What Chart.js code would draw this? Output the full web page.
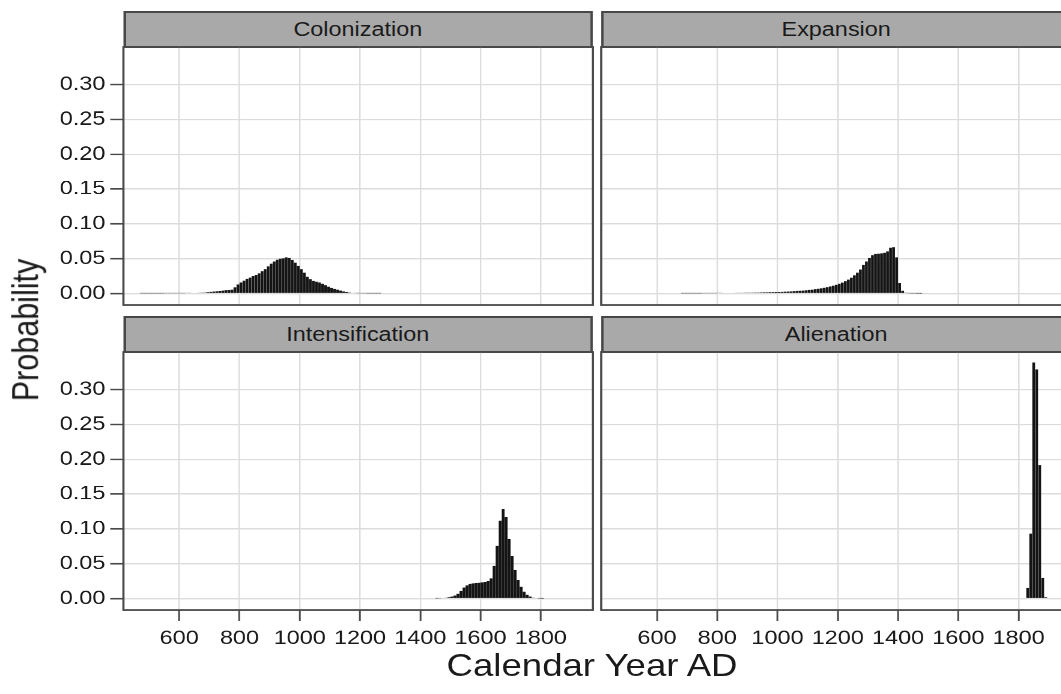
<!DOCTYPE html>
<html>
<head>
<meta charset="utf-8">
<script src="https://cdn.jsdelivr.net/npm/chart.js@4.4.1/dist/chart.umd.min.js"></script>
<style>
  body { margin: 0; overflow: hidden; background: #fff; }
  #fig {
    position: absolute; left: 0; top: 0; width: 884px; height: 694px;
    transform-origin: 0 0;
    font-family: "Liberation Sans", Arial, sans-serif; color: #1a1a1a;
  }
  .strip {
    position: absolute; box-sizing: border-box;
    background: #a9a9a9; border: 2px solid #474747;
    font-size: 19.5px; display: flex; align-items: center; justify-content: center;
  }
  .panel { position: absolute; }
  .title { position: absolute; white-space: nowrap; font-size: 30.5px; }
</style>
</head>
<body>
<div id="fig"></div>
<script>
// --------------------- DATA ------------------------
const panelTitles = ['Colonization', 'Expansion', 'Intensification', 'Alienation'];

const xTicks = [600, 800, 1000, 1200, 1400, 1600, 1800];
const yTicks = [0, 0.05, 0.10, 0.15, 0.20, 0.25, 0.30];

const colonizationYears = [
  475, 485, 495, 505, 515, 525, 535, 545, 555, 565,
  575, 585, 595, 605, 615, 625, 635, 645, 655, 665,
  675, 685, 695, 705, 715, 725, 735, 745, 755, 765,
  775, 785, 795, 805, 815, 825, 835, 845, 855, 865,
  875, 885, 895, 905, 915, 925, 935, 945, 955, 965,
  975, 985, 995, 1005, 1015, 1025, 1035, 1045, 1055, 1065,
  1075, 1085, 1095, 1105, 1115, 1125, 1135, 1145, 1155, 1165,
  1175, 1185, 1195, 1205, 1215, 1225, 1235, 1245, 1255, 1265
];
const colonizationProb = [
  0.0003, 0.0003, 0.0003, 0.0003, 0.0003, 0.0004, 0.0004, 0.0004, 0.0005, 0.0005,
  0.0005, 0.0005, 0.0006, 0.0006, 0.0006, 0.0007, 0.0007, 0.0008, 0.0009, 0.0010,
  0.0012, 0.0015, 0.0020, 0.0024, 0.0028, 0.0032, 0.0036, 0.0042, 0.0048, 0.0050,
  0.0055, 0.0090, 0.0130, 0.0160, 0.0185, 0.0210, 0.0230, 0.0250, 0.0265, 0.0290,
  0.0320, 0.0350, 0.0390, 0.0430, 0.0460, 0.0485, 0.0500, 0.0505, 0.0520, 0.0510,
  0.0480, 0.0445, 0.0395, 0.0350, 0.0300, 0.0240, 0.0205, 0.0180, 0.0170, 0.0160,
  0.0140, 0.0120, 0.0098, 0.0080, 0.0066, 0.0055, 0.0042, 0.0030, 0.0022, 0.0015,
  0.0009, 0.0007, 0.0006, 0.0005, 0.0005, 0.0004, 0.0004, 0.0003, 0.0003, 0.0003
];

const expansionYears = [
  685, 695, 705, 715, 725, 735, 745, 755, 765, 775,
  785, 795, 805, 815, 825, 835, 845, 855, 865, 875,
  885, 895, 905, 915, 925, 935, 945, 955, 965, 975,
  985, 995, 1005, 1015, 1025, 1035, 1045, 1055, 1065, 1075,
  1085, 1095, 1105, 1115, 1125, 1135, 1145, 1155, 1165, 1175,
  1185, 1195, 1205, 1215, 1225, 1235, 1245, 1255, 1265, 1275,
  1285, 1295, 1305, 1315, 1325, 1335, 1345, 1355, 1365, 1375,
  1385, 1395, 1405, 1415, 1425, 1435, 1445, 1455, 1465, 1475
];
const expansionProb = [
  0.0003, 0.0003, 0.0003, 0.0003, 0.0004, 0.0004, 0.0004, 0.0005, 0.0005, 0.0005,
  0.0006, 0.0006, 0.0007, 0.0007, 0.0008, 0.0008, 0.0009, 0.0009, 0.0010, 0.0010,
  0.0011, 0.0012, 0.0012, 0.0013, 0.0014, 0.0015, 0.0016, 0.0017, 0.0018, 0.0019,
  0.0020, 0.0021, 0.0022, 0.0024, 0.0026, 0.0028, 0.0031, 0.0034, 0.0037, 0.0040,
  0.0043, 0.0047, 0.0051, 0.0056, 0.0062, 0.0068, 0.0075, 0.0083, 0.0092, 0.0102,
  0.0113, 0.0125, 0.0140, 0.0158, 0.0178, 0.0200, 0.0228, 0.0262, 0.0300, 0.0345,
  0.0410, 0.0460, 0.0510, 0.0550, 0.0568, 0.0573, 0.0576, 0.0585, 0.0605, 0.0660,
  0.0665, 0.0520, 0.0150, 0.0040, 0.0012, 0.0006, 0.0004, 0.0003, 0.0002, 0.0002
];

const intensificationYears = [
  1455, 1465, 1475, 1485, 1495, 1505, 1515, 1525, 1535, 1545,
  1555, 1565, 1575, 1585, 1595, 1605, 1615, 1625, 1635, 1645,
  1655, 1665, 1675, 1685, 1695, 1705, 1715, 1725, 1735, 1745,
  1755, 1765, 1775, 1785, 1795, 1805
];
const intensificationProb = [
  0.0003, 0.0005, 0.0008, 0.0012, 0.0020, 0.0030, 0.0045, 0.0070, 0.0110, 0.0160,
  0.0190, 0.0210, 0.0218, 0.0222, 0.0228, 0.0232, 0.0237, 0.0250, 0.0290, 0.0470,
  0.0760, 0.1120, 0.1285, 0.1170, 0.0860, 0.0610, 0.0410, 0.0265, 0.0170, 0.0100,
  0.0055, 0.0030, 0.0015, 0.0008, 0.0004, 0.0002
];

const alienationYears = [1830, 1840, 1850, 1860, 1870, 1880, 1890];
const alienationProb = [0.0153, 0.0934, 0.3390, 0.3290, 0.1915, 0.0296, 0.0020];

const panelYears = [colonizationYears, expansionYears, intensificationYears, alienationYears];
const panelProb = [colonizationProb, expansionProb, intensificationProb, alienationProb];

// --------------------- LAYOUT ------------------------
// the reference figure is a bit wider than tall, so the whole figure is stretched
const STRETCH = 1.2;
const xMin = 415, xMax = 1973;
const yMin = -0.0165, yMax = 0.354;

const colLeft = [123.3, 601.7];   // plot left edges in page px
const plotWidth = 469;
const rowTop = [46.7, 351.7];
const plotHeight = 258.5;
const stripHeight = 35.7;
const tickFont = { family: '"Liberation Sans", Arial, sans-serif', size: 19.5 };

const fig = document.getElementById('fig');
fig.style.transform = 'scaleX(' + STRETCH + ')';

const panelBorder = {
    id: 'panelBorder',
    afterDatasetsDraw(chart) {
        const { ctx, chartArea: a } = chart;
        ctx.save();
        ctx.strokeStyle = '#4a4a4a';
        ctx.lineWidth = 1.8;
        ctx.strokeRect(a.left, a.top, a.right - a.left, a.bottom - a.top);
        ctx.restore();
    }
};

function addDiv(cls, text, css) {
    let d = document.createElement('div');
    d.className = cls;
    if (text) d.textContent = text;
    Object.assign(d.style, css);
    fig.appendChild(d);
    return d;
}

// --------------------- PANELS ------------------------
panelTitles.forEach((title, i) => {
    let col = i % 2, row = Math.floor(i / 2);
    let showY = col === 0, showX = row === 1;

    let plotL = colLeft[col] / STRETCH;
    let plotW = plotWidth / STRETCH;
    let plotT = rowTop[row];
    let axW = showY ? plotL : 2;
    let axH = showX ? 45 : 2;

    addDiv('strip', title, {
        left: plotL + 'px', top: (plotT - stripHeight) + 'px',
        width: plotW + 'px', height: (stripHeight + 1) + 'px'
    });

    let wrap = addDiv('panel', null, {
        left: (plotL - axW) + 'px', top: (plotT - 2) + 'px',
        width: (axW + plotW + 2) + 'px', height: (plotHeight + 2 + axH) + 'px'
    });
    let canvas = document.createElement('canvas');
    wrap.appendChild(canvas);

    let years = panelYears[i], prob = panelProb[i];

    new Chart(canvas, {
        type: 'bar',
        data: {
            datasets: [{
                data: years.map((x, k) => ({ x: x, y: prob[k] })),
                backgroundColor: '#141414',
                borderWidth: 0,
                barPercentage: 0.93,
                categoryPercentage: 1
            }]
        },
        options: {
            responsive: true,
            maintainAspectRatio: false,
            animation: false,
            devicePixelRatio: 2,
            layout: { padding: { top: 2, right: 2, left: 0, bottom: 0 }, autoPadding: false },
            plugins: { legend: { display: false }, tooltip: { enabled: false } },
            scales: {
                x: {
                    type: 'linear', min: xMin, max: xMax, offset: false,
                    afterBuildTicks: s => { s.ticks = xTicks.map(v => ({ value: v })); },
                    afterFit: s => { s.height = axH; s.paddingLeft = 0; s.paddingRight = 0; },
                    border: { display: false },
                    grid: {
                        offset: false, color: '#dcdcdc', lineWidth: 1.2,
                        drawTicks: showX, tickLength: 11, tickColor: '#4a4a4a', tickWidth: 1.5
                    },
                    ticks: {
                        display: showX, padding: 6, color: '#1a1a1a', font: tickFont,
                        maxRotation: 0, autoSkip: false, callback: v => String(v)
                    }
                },
                y: {
                    type: 'linear', min: yMin, max: yMax,
                    afterBuildTicks: s => { s.ticks = yTicks.map(v => ({ value: v })); },
                    afterFit: s => { s.width = axW; s.paddingTop = 0; s.paddingBottom = 0; },
                    border: { display: false },
                    grid: {
                        color: '#dcdcdc', lineWidth: 1.2,
                        drawTicks: showY, tickLength: 11, tickColor: '#4a4a4a', tickWidth: 1.5
                    },
                    ticks: {
                        display: showY, padding: 4, color: '#1a1a1a', font: tickFont,
                        autoSkip: false, callback: v => v.toFixed(2)
                    }
                }
            }
        },
        plugins: [panelBorder]
    });
});

// --------------------- AXIS TITLES ------------------------
addDiv('title', 'Probability', {
    left: (25 / STRETCH) + 'px', top: '330px',
    transform: 'translate(-50%, -50%) rotate(-90deg)'
});
addDiv('title', 'Calendar Year AD', {
    left: (592 / STRETCH) + 'px', top: '665px',
    transform: 'translate(-50%, -50%)'
});
</script>
</body>
</html>
